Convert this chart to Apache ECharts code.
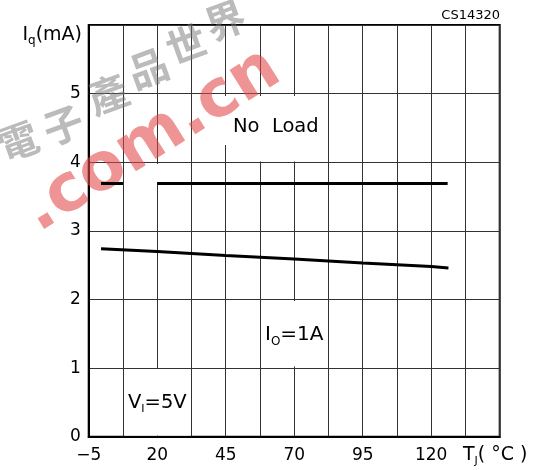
<!DOCTYPE html>
<html>
<head>
<meta charset="utf-8">
<script src="https://cdn.jsdelivr.net/npm/echarts@6/dist/echarts.min.js"></script>
<style>
html,body{margin:0;padding:0;background:#fff;}
#chart{width:544px;height:470px;}
</style>
</head>
<body>
<div id="chart"></div>
<script>
// ---- data ----
const xMin = -5;             // TJ axis start (°C)
const xMax = 145;            // TJ axis end (°C)
const xGridStep = 12.5;      // vertical grid spacing (°C)
const xTickLabels = ['\u22125', '20', '45', '70', '95', '120'];
const yTickLabels = ['0', '1', '2', '3', '4', '5'];

// No Load curve (short break near 10-20 °C as in the reference)
const noLoadT  = [-0.5, 7.5, 14, 20, 126];
const noLoadIq = [3.69, 3.69, null, 3.69, 3.69];

// IO = 1A curve
const loadT  = [-0.5, 20, 45, 70, 95, 120, 126.3];
const loadIq = [2.74, 2.70, 2.64, 2.59, 2.53, 2.48, 2.46];

// watermark text
const wmChars = ['電', '子', '產', '品', '世', '界'];
const wmLatin = '.com.cn';

const FONT = 'DejaVu Sans';

function toSeries(ts, vs) {
  return ts.map((t, i) => vs[i] === null ? [t - xMin, '-'] : [t - xMin, vs[i]]);
}

const chart = echarts.init(document.getElementById('chart'), null, {renderer: 'canvas'});

const whiteBox = (x, y, w, h) => ({
  type: 'rect', shape: {x: x, y: y, width: w, height: h},
  style: {fill: '#fff'}, z: 1, silent: true
});

// watermark glyph placement (layout only)
const wmPos = [[18, 141], [63, 125], [108, 94], [148, 68], [186, 44], [225, 20]];
const wmGraphics = wmChars.map((c, i) => ({
  type: 'text', x: wmPos[i][0], y: wmPos[i][1], rotation: 0.35, z: 2, silent: true,
  style: {
    text: c, fontFamily: 'Noto Sans CJK TC', fontSize: 40, fontWeight: 'bold',
    fill: 'rgba(120,120,120,0.5)', align: 'center', verticalAlign: 'middle'
  }
}));

chart.setOption({
  animation: false,
  backgroundColor: '#fff',
  grid: {
    left: 88.7, right: 44.3, top: 25, bottom: 33.3,
    show: true, borderColor: '#000', borderWidth: 2, backgroundColor: 'transparent'
  },
  xAxis: {
    type: 'value',
    min: 0, max: xMax - xMin, interval: xGridStep,
    axisLine: {show: true, lineStyle: {color: '#000', width: 2}},
    axisTick: {show: false},
    splitLine: {show: true, lineStyle: {color: '#333', width: 1}},
    axisLabel: {
      color: '#000', fontSize: 17, fontFamily: FONT, margin: 10,
      formatter: function (v) {
        const k = Math.round(v / 25);
        if (Math.abs(v - k * 25) < 1e-6 && k < xTickLabels.length) return xTickLabels[k];
        return '';
      }
    }
  },
  yAxis: {
    type: 'value',
    min: 0, max: 6, interval: 1,
    axisLine: {show: true, lineStyle: {color: '#000', width: 2}},
    axisTick: {show: false},
    splitLine: {show: true, lineStyle: {color: '#333', width: 1}},
    axisLabel: {
      color: '#000', fontSize: 17, fontFamily: FONT, margin: 8,
      formatter: function (v) {
        const k = Math.round(v);
        return k < yTickLabels.length ? yTickLabels[k] : '';
      }
    }
  },
  series: [
    {
      type: 'line', name: 'No Load', data: toSeries(noLoadT, noLoadIq),
      showSymbol: false, symbol: 'none', connectNulls: false, z: 3,
      lineStyle: {color: '#000', width: 3}
    },
    {
      type: 'line', name: 'IO=1A', data: toSeries(loadT, loadIq),
      showSymbol: false, symbol: 'none', z: 3,
      lineStyle: {color: '#000', width: 3}
    }
  ],
  graphic: [
    // cleared areas behind annotations
    whiteBox(193, 96, 134, 49),
    whiteBox(227, 145, 100, 16.5),
    whiteBox(156, 164, 3, 18),
    whiteBox(262, 301, 65, 65.5),
    whiteBox(124.5, 369, 66, 66.5)
  ].concat(wmGraphics).concat([
    {
      type: 'text', x: 152, y: 141, rotation: 0.56, z: 2, silent: true,
      style: {
        text: wmLatin, fontFamily: FONT, fontSize: 66, fontWeight: 'bold',
        fill: 'rgba(225,70,70,0.58)', align: 'center', verticalAlign: 'middle'
      }
    },
    // axis titles
    {
      type: 'text', x: 82, y: 35, z: 5,
      style: {
        text: '{a|I}{s|q}{a|(mA)}', align: 'right', verticalAlign: 'middle',
        rich: {
          a: {fontFamily: FONT, fontSize: 19, fill: '#000', lineHeight: 24},
          s: {fontFamily: FONT, fontSize: 12, fill: '#000', verticalAlign: 'bottom', lineHeight: 13}
        }
      }
    },
    {
      type: 'text', x: 500, y: 16, z: 5,
      style: {
        text: 'CS14320', fontFamily: FONT, fontSize: 13, fill: '#000',
        align: 'right', verticalAlign: 'middle'
      }
    },
    {
      type: 'text', x: 463, y: 455, z: 5,
      style: {
        text: '{a|T}{s|J}{a|( °C )}', align: 'left', verticalAlign: 'middle',
        rich: {
          a: {fontFamily: FONT, fontSize: 19, fill: '#000', lineHeight: 24},
          s: {fontFamily: FONT, fontSize: 11, fill: '#000', verticalAlign: 'bottom', lineHeight: 13}
        }
      }
    },
    // annotations
    {
      type: 'text', x: 233, y: 127, z: 5,
      style: {
        text: 'No  Load', fontFamily: FONT, fontSize: 19.5, fill: '#000',
        align: 'left', verticalAlign: 'middle'
      }
    },
    {
      type: 'text', x: 265, y: 335, z: 5,
      style: {
        text: '{a|I}{s|O}{a|=1A}', align: 'left', verticalAlign: 'middle',
        rich: {
          a: {fontFamily: FONT, fontSize: 20, fill: '#000', lineHeight: 25},
          s: {fontFamily: FONT, fontSize: 12, fill: '#000', verticalAlign: 'bottom', lineHeight: 14}
        }
      }
    },
    {
      type: 'text', x: 128, y: 403, z: 5,
      style: {
        text: '{a|V}{s|I}{a|=5V}', align: 'left', verticalAlign: 'middle',
        rich: {
          a: {fontFamily: FONT, fontSize: 19.5, fill: '#000', lineHeight: 24},
          s: {fontFamily: FONT, fontSize: 11, fill: '#000', verticalAlign: 'bottom', lineHeight: 13}
        }
      }
    }
  ])
});
</script>
</body>
</html>
